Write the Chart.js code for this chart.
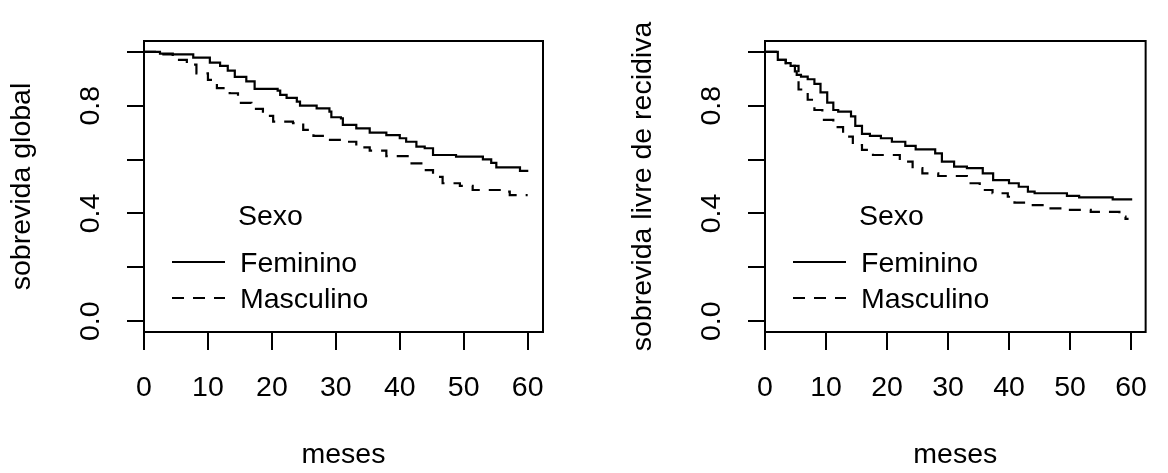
<!DOCTYPE html>
<html>
<head>
<meta charset="utf-8">
<script src="https://cdn.jsdelivr.net/npm/chart.js@4.4.1/dist/chart.umd.min.js"></script>
<style>
  body { margin: 0; background: #fff; width: 1168px; height: 473px; overflow: hidden; position: relative; }
  canvas { position: absolute; top: 0; }
</style>
</head>
<body>
<canvas id="global" width="584" height="473" style="left:0px"></canvas>
<canvas id="recidiva" width="547" height="473" style="left:621px"></canvas>
<script>
// eixos
const xTicks = [0, 10, 20, 30, 40, 50, 60];
const yTicks = [0, 0.2, 0.4, 0.6, 0.8, 1.0];
const yLabels = ['0.0', '', '0.4', '', '0.8', ''];
const groups = ['Feminino', 'Masculino'];

// sobrevida global - feminino
const globFemT = [0, 2.5, 4.5, 7.7, 10.3, 11.9, 13.1, 14.2, 16.0, 17.3, 20.9, 21.3, 22.3, 23.9, 24.4, 27.0, 29.0, 29.3, 30.8, 31.1, 33.2, 35.3, 37.9, 40.0, 41.0, 42.6, 43.9, 45.2, 48.8, 53.0, 54.3, 55.1, 58.8, 60.1];
const globFemS = [1, 0.993, 0.99, 0.978, 0.96, 0.948, 0.93, 0.907, 0.89, 0.862, 0.856, 0.84, 0.829, 0.815, 0.80, 0.79, 0.778, 0.757, 0.753, 0.729, 0.716, 0.70, 0.691, 0.679, 0.666, 0.648, 0.642, 0.617, 0.611, 0.601, 0.588, 0.571, 0.558, 0.558];
// sobrevida global - masculino
const globMasT = [0, 2.4, 4.5, 6.7, 8.2, 10.0, 11.4, 13.4, 14.7, 16.8, 18.6, 20.2, 23.3, 24.9, 26.5, 28.5, 31.1, 33.2, 35.3, 37.9, 41.6, 43.6, 45.2, 46.7, 49.4, 51.4, 56.7, 57.2, 60.0];
const globMasS = [1, 0.99, 0.97, 0.952, 0.92, 0.896, 0.865, 0.846, 0.81, 0.788, 0.762, 0.741, 0.735, 0.71, 0.688, 0.673, 0.666, 0.645, 0.633, 0.613, 0.586, 0.561, 0.536, 0.512, 0.502, 0.487, 0.481, 0.468, 0.468];

// sobrevida livre de recidiva - feminino
const recFemT = [0, 2.1, 3.4, 4.2, 4.9, 5.2, 5.9, 7.0, 8.1, 9.1, 10.2, 11.2, 12.0, 14.1, 14.8, 15.9, 17.2, 19.0, 20.8, 23.0, 24.7, 27.9, 29.0, 31.0, 33.1, 35.7, 37.4, 40.0, 41.6, 43.1, 44.2, 49.5, 51.5, 57.0, 60.2];
const recFemS = [1, 0.97, 0.958, 0.948, 0.927, 0.914, 0.908, 0.898, 0.881, 0.849, 0.811, 0.784, 0.778, 0.76, 0.725, 0.695, 0.688, 0.679, 0.666, 0.651, 0.638, 0.623, 0.592, 0.574, 0.568, 0.549, 0.524, 0.512, 0.499, 0.481, 0.475, 0.465, 0.46, 0.452, 0.452];
// sobrevida livre de recidiva - masculino
const recMasT = [0, 2.1, 3.4, 4.2, 5.5, 7.0, 8.1, 9.4, 11.2, 12.8, 14.4, 15.9, 17.7, 22.1, 24.2, 25.8, 28.4, 33.1, 35.2, 37.3, 39.8, 40.9, 43.4, 46.0, 49.2, 53.4, 58.1, 59.1, 59.6];
const recMasS = [1, 0.97, 0.958, 0.948, 0.86, 0.822, 0.784, 0.747, 0.72, 0.685, 0.654, 0.636, 0.617, 0.592, 0.568, 0.549, 0.539, 0.512, 0.487, 0.475, 0.462, 0.44, 0.431, 0.419, 0.413, 0.406, 0.388, 0.38, 0.38];

const FONT = { family: "'Liberation Sans', Arial, Helvetica, sans-serif", size: 28.5 };
const DASH = [12, 9];

// caixa + legenda dentro do grafico
const boxLegend = {
  id: 'boxLegend',
  afterDraw(chart) {
    const { ctx, chartArea: a } = chart;
    ctx.save();
    ctx.strokeStyle = '#000';
    ctx.lineWidth = 2;
    ctx.strokeRect(a.left, a.top, a.right - a.left, a.bottom - a.top);

    ctx.font = FONT.size + 'px ' + FONT.family;
    ctx.fillStyle = '#000';
    ctx.textBaseline = 'alphabetic';
    ctx.fillText('Sexo', a.left + 94, 225);
    const rows = [272, 308];
    groups.forEach((g, i) => {
      ctx.setLineDash(i === 0 ? [] : DASH);
      ctx.beginPath();
      ctx.moveTo(a.left + 28, rows[i] - 10);
      ctx.lineTo(a.left + 81, rows[i] - 10);
      ctx.stroke();
      ctx.fillText(g, a.left + 96, rows[i]);
    });
    ctx.restore();
  }
};

function toPoints(ts, ss) {
  return ts.map((t, i) => ({ x: t, y: ss[i] }));
}

function makeChart(id, yTitle, femT, femS, masT, masS, padRight) {
  const grid = { display: true, drawOnChartArea: false, drawTicks: true, color: '#000', lineWidth: 2 };
  new Chart(document.getElementById(id), {
    type: 'line',
    data: {
      datasets: [
        { label: groups[0], data: toPoints(femT, femS), stepped: 'before', borderColor: '#000', borderWidth: 2.2, pointRadius: 0, fill: false },
        { label: groups[1], data: toPoints(masT, masS), stepped: 'before', borderColor: '#000', borderWidth: 2.2, borderDash: DASH, pointRadius: 0, fill: false }
      ]
    },
    options: {
      responsive: false,
      animation: false,
      devicePixelRatio: 1,
      layout: { padding: { left: 5, top: 41, right: padRight, bottom: 0 } },
      plugins: { legend: { display: false }, tooltip: { enabled: false } },
      scales: {
        x: {
          type: 'linear',
          min: 0,
          max: 62.4,
          afterBuildTicks: s => { s.ticks = xTicks.map(v => ({ value: v })); },
          afterFit: s => { s.height = 141; },
          grid: Object.assign({}, grid, { tickLength: 18 }),
          border: { display: false },
          ticks: { color: '#000', font: FONT, padding: 21, maxRotation: 0, autoSkip: false },
          title: { display: true, text: 'meses', color: '#000', font: FONT, padding: { top: 0, bottom: 1 } }
        },
        y: {
          type: 'linear',
          min: -0.04,
          max: 1.04,
          afterBuildTicks: s => { s.ticks = yTicks.map(v => ({ value: v })); },
          afterFit: s => { s.width = 139; },
          grid: Object.assign({}, grid, { tickLength: 17 }),
          border: { display: false },
          ticks: {
            color: '#000', font: FONT, padding: 16, autoSkip: false,
            minRotation: 90, maxRotation: 90, crossAlign: 'center',
            callback: (v, i) => yLabels[i]
          },
          title: { display: true, text: yTitle, color: '#000', font: FONT, padding: { top: 0, bottom: 0 } }
        }
      }
    },
    plugins: [boxLegend]
  });
}

makeChart('global', 'sobrevida global', globFemT, globFemS, globMasT, globMasS, 41);
makeChart('recidiva', 'sobrevida livre de recidiva', recFemT, recFemS, recMasT, recMasS, 4);
</script>
</body>
</html>
